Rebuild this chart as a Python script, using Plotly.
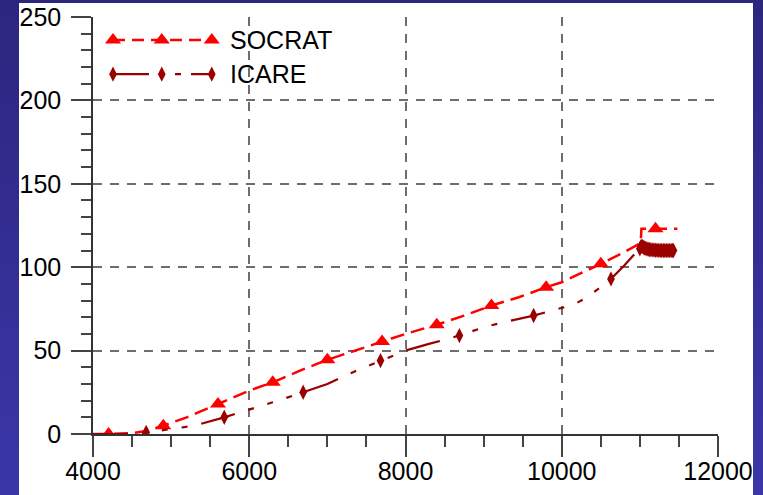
import plotly.graph_objects as go

# ---- data -------------------------------------------------------------
socrat_x = [4000, 4200, 4500, 4700, 4900, 5200, 5600, 6000, 6300, 6650, 7000,
            7350, 7700, 8000, 8400, 8750, 9100, 9450, 9800, 10000, 10500,
            10800, 11010, 11020, 11200, 11480]
socrat_y = [0, 0, 0.5, 2, 5, 10, 18, 26, 31, 38, 44.5,
            50, 55.5, 60, 65.5, 71, 77, 82, 88, 91, 102,
            109, 114.5, 123, 123, 123]
socrat_mx = [4200, 4900, 5600, 6300, 7000, 7700, 8400, 9100, 9800, 10500, 11200]
socrat_my = [0, 5, 18, 31, 44.5, 55.5, 65.5, 77, 88, 102, 123]

icare_x = [4000, 4500, 4700, 5000, 5300, 5680, 6000, 6300, 6690, 7000, 7350,
           7680, 8000, 8300, 8690, 9000, 9300, 9640, 10000, 10150, 10330,
           10630, 10800, 11000, 11020, 11060, 11100, 11150, 11200, 11250,
           11300, 11350, 11400, 11430]
icare_y = [0, 0, 1, 3, 5, 10, 14.5, 19, 25, 30, 37.5,
           44, 50, 54, 59, 64, 67.5, 71, 75.5, 77.5, 82,
           93, 101, 111, 112.5, 111.5, 111, 110.5, 110.3, 110.2,
           110, 110, 110, 110]
icare_mx = [4680, 5680, 6690, 7680, 8690, 9640, 10630,
            11000, 11015, 11030, 11045, 11060, 11075, 11090, 11105, 11120,
            11140, 11160, 11180, 11200, 11220, 11240, 11260, 11280, 11300,
            11320, 11340, 11360, 11380, 11400, 11415, 11430]
icare_my = [1, 10, 25, 44, 59, 71, 93,
            111, 112.5, 112.5, 112, 111.5, 111.3, 111, 110.8, 110.6,
            110.5, 110.4, 110.3, 110.2, 110.2, 110.1, 110, 110, 110,
            110, 110, 110, 110, 110, 110, 110]

series_names = ["SOCRAT", "ICARE"]
x_ticks = [4000, 6000, 8000, 10000, 12000]
x_labels = ["4000", "6000", "8000", "10000", "12000"]
y_ticks = [0, 50, 100, 150, 200, 250]
y_labels = ["0", "50", "100", "150", "200", "250"]

RED = "#FF0000"
DARK_RED = "#9B0000"
SOCRAT_DASH = "14px,7px"
ICARE_DASH = "35px,14px,6px,14px,6px,14px,6px,14px"
FONT = "Liberation Sans, Arial, sans-serif"

fig = go.Figure()

# SOCRAT curve and its markers
fig.add_trace(go.Scatter(x=socrat_x, y=socrat_y, mode="lines",
                         line=dict(color=RED, width=2.5, dash=SOCRAT_DASH),
                         showlegend=False, hoverinfo="skip"))
fig.add_trace(go.Scatter(x=socrat_mx, y=socrat_my, mode="markers",
                         marker=dict(symbol="triangle-up", size=14, color=RED),
                         showlegend=False, name=series_names[0]))

# ICARE curve and its markers
fig.add_trace(go.Scatter(x=icare_x, y=icare_y, mode="lines",
                         line=dict(color=DARK_RED, width=2.2, dash=ICARE_DASH),
                         showlegend=False, hoverinfo="skip"))
fig.add_trace(go.Scatter(x=icare_mx, y=icare_my, mode="markers",
                         marker=dict(symbol="diamond-tall", size=11, color=DARK_RED),
                         showlegend=False, name=series_names[1]))

# legend samples drawn on an invisible overlay axis in unit coordinates
leg_x = [0.032, 0.110, 0.190]
leg_y = [0.945, 0.863]
fig.add_trace(go.Scatter(x=leg_x, y=[leg_y[0]] * 3, xaxis="x2", yaxis="y2",
                         mode="lines+markers",
                         line=dict(color=RED, width=2.5, dash="12px,7px"),
                         marker=dict(symbol="triangle-up", size=14, color=RED),
                         showlegend=False, hoverinfo="skip"))
fig.add_trace(go.Scatter(x=leg_x, y=[leg_y[1]] * 3, xaxis="x2", yaxis="y2",
                         mode="lines+markers",
                         line=dict(color=DARK_RED, width=2.2,
                                   dash="36px,10px,6px,10px,6px,10px"),
                         marker=dict(symbol="diamond-tall", size=11, color=DARK_RED),
                         showlegend=False, hoverinfo="skip"))

annotations = []
for name, yy in zip(series_names, leg_y):
    annotations.append(dict(x=0.216, y=yy, xref="x2", yref="y2", text=name,
                            showarrow=False, xanchor="left", yanchor="middle",
                            font=dict(family=FONT, size=25, color="#000000")))

# blue gradient backdrop with a white panel
shapes = []
n_strips = 30
top_rgb = (44, 38, 126)
bot_rgb = (59, 54, 168)
y_lo, y_hi = -0.1463, 1.0408
for i in range(n_strips):
    t = i / (n_strips - 1)
    r = round(top_rgb[0] + (bot_rgb[0] - top_rgb[0]) * t)
    g = round(top_rgb[1] + (bot_rgb[1] - top_rgb[1]) * t)
    b = round(top_rgb[2] + (bot_rgb[2] - top_rgb[2]) * t)
    y1 = y_hi - (y_hi - y_lo) * i / n_strips
    y0 = y_hi - (y_hi - y_lo) * (i + 1) / n_strips - 0.002
    shapes.append(dict(type="rect", xref="paper", yref="paper",
                       x0=-0.16, x1=1.08, y0=y0, y1=y1, layer="below",
                       line=dict(width=0), fillcolor=f"rgb({r},{g},{b})"))
shapes.append(dict(type="rect", xref="paper", yref="paper",
                   x0=-0.1184, x1=1.056, y0=-0.16, y1=1.0336, layer="below",
                   line=dict(width=0), fillcolor="#FFFFFF"))

axis_common = dict(
    showline=True, linecolor="#333333", linewidth=1.5,
    ticks="outside", tickcolor="#444444", tickwidth=1.5,
    showgrid=True, gridcolor="#6E6E6E", gridwidth=1.5, griddash="9px,8px",
    zeroline=False, automargin=False,
    tickfont=dict(family=FONT, size=25, color="#000000"),
)

fig.update_layout(
    width=763, height=495,
    margin=dict(l=93, r=45, t=17, b=61),
    paper_bgcolor="#2C267E",
    plot_bgcolor="rgba(0,0,0,0)",
    xaxis=dict(range=[4000, 12000], tickvals=x_ticks, ticktext=x_labels,
               ticklen=21, ticklabelstandoff=-7,
               minor=dict(dtick=500, tick0=4000, ticks="outside", ticklen=11,
                          tickcolor="#444444", tickwidth=1.5, showgrid=False),
               **axis_common),
    yaxis=dict(range=[0, 250], tickvals=y_ticks, ticktext=y_labels,
               ticklen=20, ticklabelstandoff=5,
               minor=dict(dtick=10, tick0=0, ticks="outside", ticklen=10,
                          tickcolor="#444444", tickwidth=1.5, showgrid=False),
               **axis_common),
    xaxis2=dict(range=[0, 1], overlaying="x", visible=False, fixedrange=True),
    yaxis2=dict(range=[0, 1], overlaying="y", visible=False, fixedrange=True),
    shapes=shapes,
    annotations=annotations,
    showlegend=False,
)

fig.write_html("out.html")
